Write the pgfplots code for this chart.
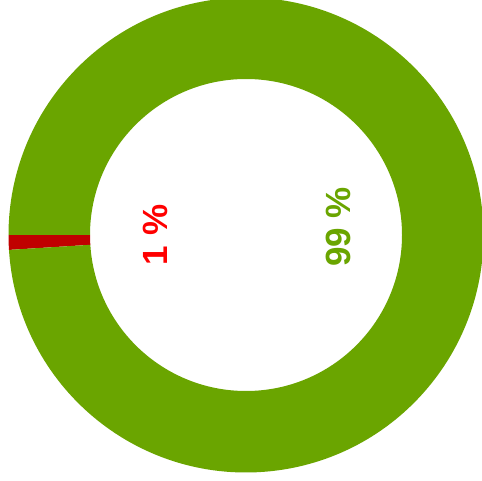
\documentclass[border=0pt]{standalone}
\usepackage{pgfplots}
\pgfplotsset{compat=1.18}
\usepackage{pgfplotstable}
\usepackage{fontspec}
\setmainfont{Liberation Sans}
\definecolor{grn}{RGB}{106,165,0}
\definecolor{dred}{RGB}{192,0,0}
\definecolor{lred}{RGB}{255,0,0}
\pgfplotstableread{
label value
1 1
2 99
}\datatable
\begin{document}
\begin{tikzpicture}
\pgfplotstablegetelem{0}{value}\of\datatable \pgfmathsetmacro\va{\pgfplotsretval}
\pgfplotstablegetelem{1}{value}\of\datatable \pgfmathsetmacro\vb{\pgfplotsretval}
\pgfmathsetmacro\tot{\va+\vb}
\pgfmathsetmacro\aS{180}
\pgfmathsetmacro\aM{180+360*\va/\tot}
\pgfmathsetmacro\aE{180+360}
\begin{axis}[x=1pt,y=1pt,xmin=0,xmax=482,ymin=0,ymax=480,hide axis,clip=true,
  scale only axis]
\fill[dred] (axis cs:{246+237.5*cos(\aS)},{245+237.5*sin(\aS)}) arc[start angle=\aS,end angle=\aM,radius=237.5]
  -- (axis cs:{246+156*cos(\aM)},{245+156*sin(\aM)}) arc[start angle=\aM,end angle=\aS,radius=156] -- cycle;
\fill[grn] (axis cs:{246+237.5*cos(\aM)},{245+237.5*sin(\aM)}) arc[start angle=\aM,end angle=\aE,radius=237.5]
  -- (axis cs:{246+156*cos(\aE)},{245+156*sin(\aE)}) arc[start angle=\aE,end angle=\aM,radius=156] -- cycle;
\node[rotate=90,text=lred,font=\fontsize{35}{40}\selectfont\bfseries,inner sep=0pt] at (axis cs:155,245) {1 \%};
\node[rotate=90,text=grn,font=\fontsize{35}{40}\selectfont\bfseries,inner sep=0pt] at (axis cs:338,253) {99 \%};
\end{axis}
\pgfresetboundingbox
\path[use as bounding box] (current axis.south west) rectangle (current axis.north east);
\end{tikzpicture}
\end{document}
